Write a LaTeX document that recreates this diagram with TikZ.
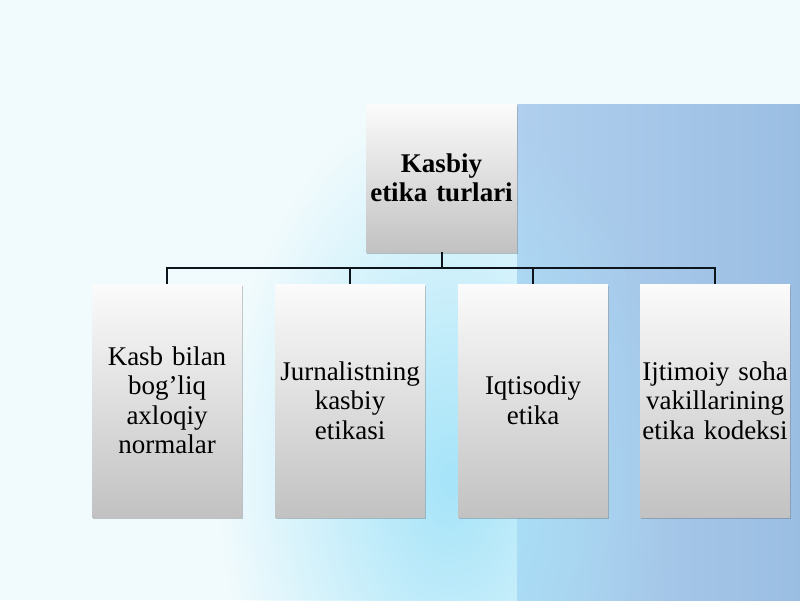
\documentclass[tikz,border=0pt]{standalone}
\usepackage{fontspec}
\setmainfont{Liberation Serif}
\usetikzlibrary{shadows,fadings}
\definecolor{bgpale}{HTML}{F1FBFD}
\definecolor{glow}{HTML}{A6E4F9}
\definecolor{blueA}{HTML}{B0CFEE}
\definecolor{blueB}{HTML}{9ABEE2}
\definecolor{boxtop}{HTML}{FBFBFB}
\definecolor{boxmid}{HTML}{E6E6E6}
\definecolor{boxbot}{HTML}{C2C2C2}
\definecolor{linecol}{HTML}{0E141C}
\tikzfading[name=glowfade, inner color=transparent!0, outer color=transparent!100]
\tikzset{
  box/.style={draw=none, shading=axis, top color=boxtop, middle color=boxmid, bottom color=boxbot,
    text width=150pt, align=center, inner sep=0pt, font=\fontsize{27}{29.5}\selectfont,
    drop shadow={shadow xshift=1pt, shadow yshift=-2pt, opacity=0.35, fill=gray!70!black}},
  topbox/.style={box, text width=151pt, minimum height=148pt, font=\bfseries\fontsize{27}{29}\selectfont},
  leafbox/.style={box, minimum height=233pt},
  link/.style={draw=linecol, line width=2pt}
}
\begin{document}
\begin{tikzpicture}[x=1pt,y=-1pt]
\useasboundingbox (0,0) rectangle (800,600);
% background
\fill[bgpale] (0,0) rectangle (800,600);
\fill[left color=blueA, right color=blueB] (517,104) rectangle (800,600);
\fill[glow, path fading=glowfade] (220,100) rectangle (680,860);
\fill[bgpale] (0,0) rectangle (800,104);
% nodes
\node[topbox] (top) at (441.5,178) {Kasbiy\\etika turlari};
\node[leafbox] (b1) at (167,400.5) {Kasb bilan\\bog’liq\\axloqiy\\normalar};
\node[leafbox] (b2) at (350,400.5) {Jurnalistning\\kasbiy\\etikasi};
\node[leafbox] (b3) at (533,400.5) {Iqtisodiy\\etika};
\node[leafbox] (b4) at (715,400.5) {Ijtimoiy soha\\vakillarining\\etika kodeksi};
% connectors
\draw[link] (top.south) -- ++(0,16) -| (b1.north);
\draw[link] (top.south) -- ++(0,16) -| (b2.north);
\draw[link] (top.south) -- ++(0,16) -| (b3.north);
\draw[link] (top.south) -- ++(0,16) -| (b4.north);
\end{tikzpicture}
\end{document}
